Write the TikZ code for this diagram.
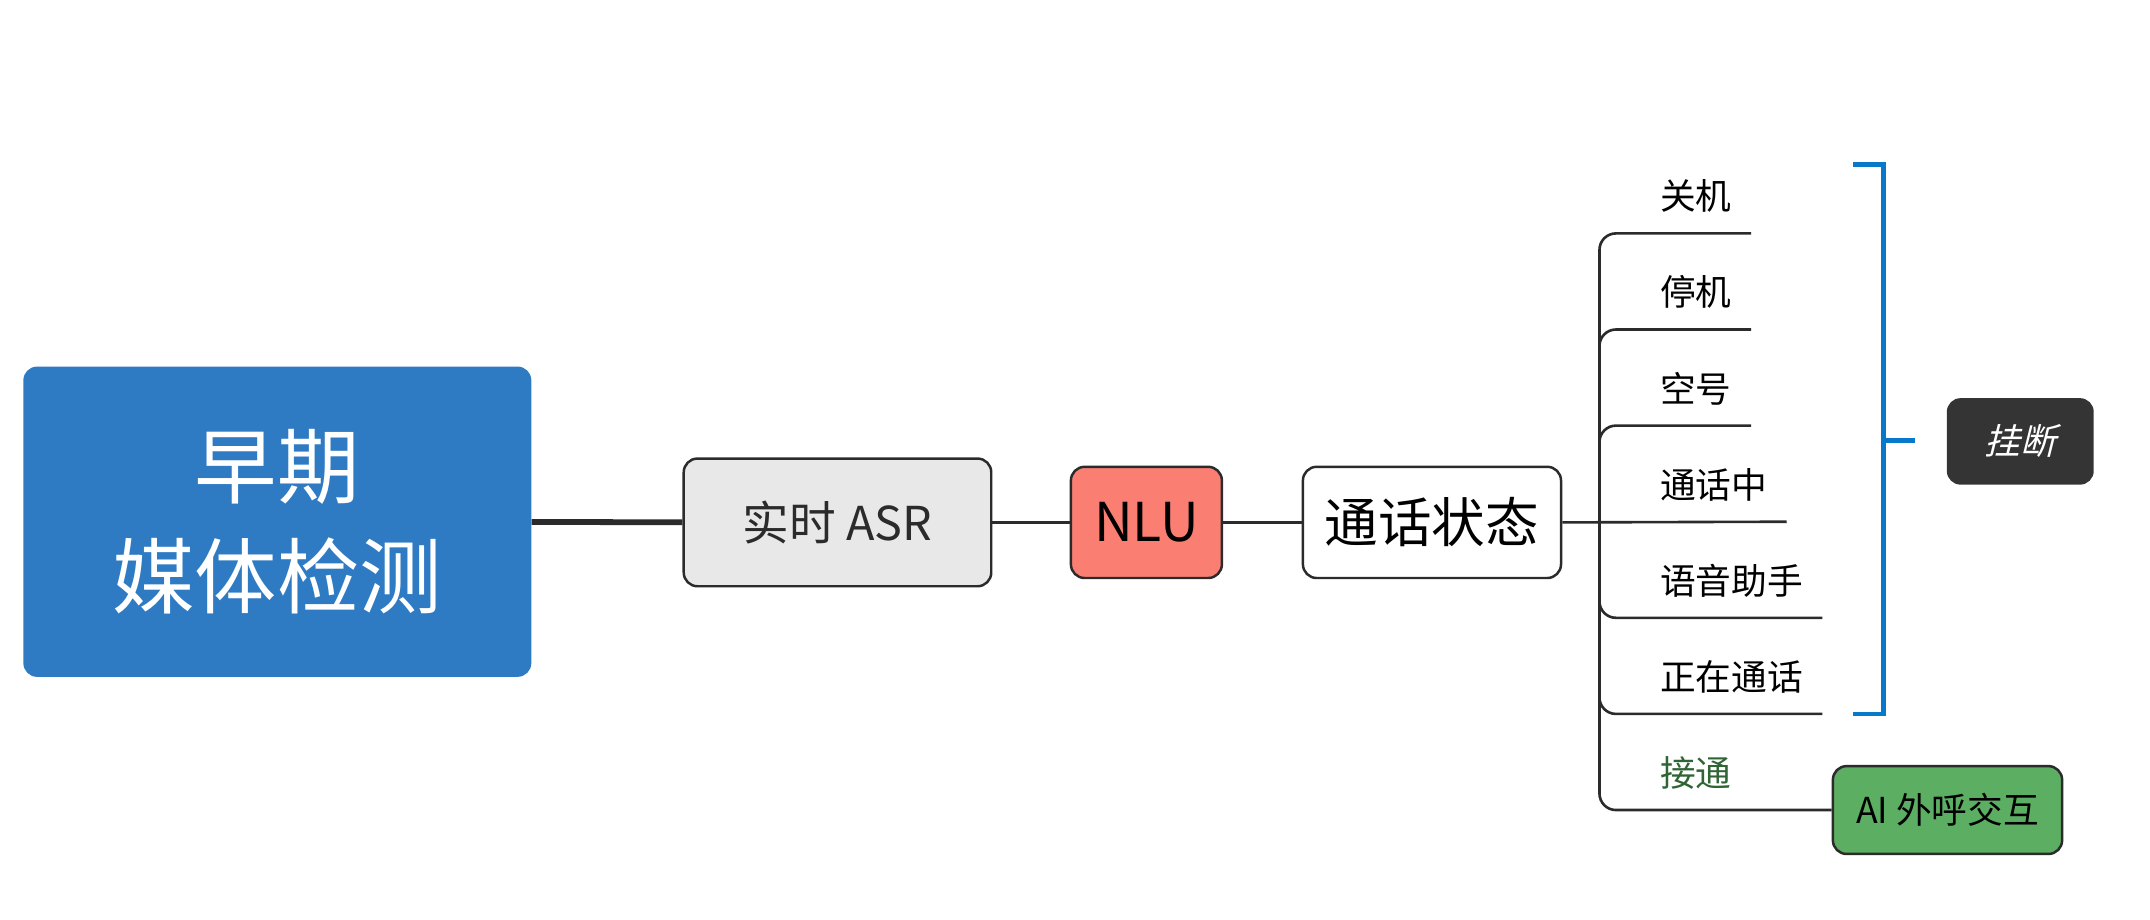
\documentclass[tikz,border=0pt]{standalone}
\usepackage{fontspec}
\setmainfont{Noto Sans CJK SC}
\newfontfamily\slantcjk[FakeSlant=0.25]{Noto Sans CJK SC}
\usepackage{tikz}
\usetikzlibrary{positioning}
\definecolor{rootblue}{RGB}{46,123,196}
\definecolor{asrgray}{RGB}{232,232,232}
\definecolor{nlured}{RGB}{250,126,114}
\definecolor{darkline}{RGB}{43,43,43}
\definecolor{bracketblue}{RGB}{8,120,202}
\definecolor{tagdark}{RGB}{52,52,52}
\definecolor{aigreen}{RGB}{91,174,98}
\definecolor{okgreen}{RGB}{47,100,52}

\begin{document}
\begin{tikzpicture}[
  x = 1pt,
  y = -1pt,
  root/.style = {
    rectangle,
    fill = rootblue,
    rounded corners = 10pt,
    text = white,
    align = center,
    font = \fontsize{60}{80}\selectfont,
    minimum width = 370pt,
    minimum height = 226pt,
  },
  topic/.style = {
    draw = darkline,
    line width = 1.8pt,
    rectangle,
    rounded corners = 10pt,
    inner sep = 0pt,
    minimum height = 81pt,
  },
  leaf/.style = {
    anchor = south west,
    inner xsep = 14pt,
    inner ysep = 17pt,
    text depth = 0pt,
    font = \fontsize{26}{30}\selectfont,
  },
  tag/.style = {
    rectangle,
    fill = tagdark,
    rounded corners = 10pt,
    text = white,
    minimum width = 107pt,
    minimum height = 63pt,
    font = \fontsize{26}{30}\selectfont\slantcjk,
  },
  link/.style = {
    draw = darkline,
    line width = 1.9pt,
  },
  branch/.style = {
    link,
    rounded corners = 12pt,
  },
  bracket/.style = {
    draw = bracketblue,
    line width = 3.5pt,
  },
]

  \useasboundingbox (0,0) rectangle (1566,670);

  \node[root] (early) at (202,380) {早期\\媒体检测};

  \node[topic,fill=asrgray,text=darkline,minimum width=224pt,minimum height=93pt,
        font=\fontsize{34}{40}\selectfont] (asr) at (610,380.5) {实时 ASR};
  \node[topic,fill=nlured,minimum width=110pt,font=\fontsize{39}{44}\selectfont] (nlu) at (835,380.5) {NLU};
  \node[topic,fill=white,minimum width=188pt,font=\fontsize{39}{44}\selectfont] (state) at (1043,380.5) {通话状态};

  \coordinate (hub) at (1165,380);

  \node[leaf] (poweroff) at (1195,170) {关机};
  \node[leaf] (suspended) at (1195,240) {停机};
  \node[leaf] (vacant) at (1195,310) {空号};
  \node[leaf] (busy) at (1195,380) {通话中};
  \node[leaf] (assistant) at (1195,450) {语音助手};
  \node[leaf] (oncall) at (1195,520) {正在通话};
  \node[leaf,text=okgreen] (connected) at (1195,590) {接通};

  \node[topic,fill=aigreen,minimum width=167pt,minimum height=64pt,
        font=\fontsize{26}{30}\selectfont] (ai) at (1418.5,590) {AI 外呼交互};

  \node[tag] (hangup) at (1471.5,321.5) {挂断};

  \draw[link,line width=4.2pt] (early) -- (asr);
  \draw[link] (asr) -- (nlu);
  \draw[link] (nlu) -- (state);
  \draw[link] (state.east) -- (busy.south east);

  \draw[branch] (hub) |- (poweroff.south east);
  \draw[branch] (hub) |- (suspended.south east);
  \draw[branch] (hub) |- (vacant.south east);
  \draw[branch] (hub) |- (assistant.south east);
  \draw[branch] (hub) |- (oncall.south east);
  \draw[branch] (hub) |- (ai.west);

  % bracket over the hang-up cases
  \coordinate (bt) at (1350,120);
  \coordinate (bb) at (1350,520);
  \coordinate (bm) at (1395,321);
  \draw[bracket] (bt) -- ++(22,0) |- (bb);
  \draw[bracket] (bm) -- ++(-23,0);

\end{tikzpicture}
\end{document}
